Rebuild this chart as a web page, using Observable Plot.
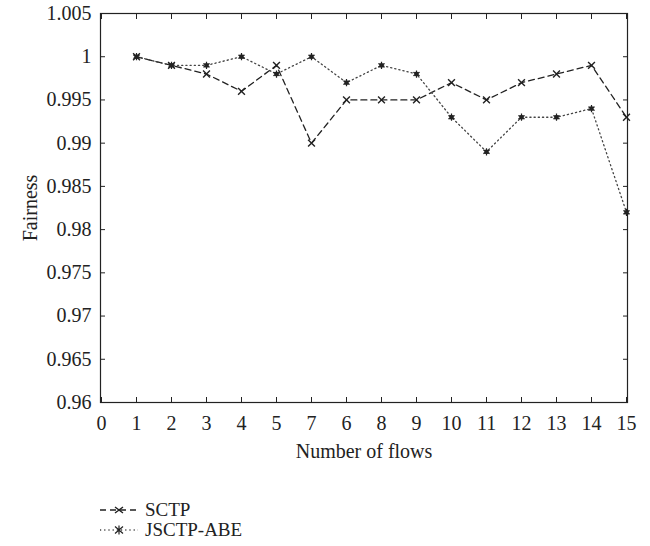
<!DOCTYPE html>
<html>
<head>
<meta charset="utf-8">
<script src="https://cdn.jsdelivr.net/npm/d3@7"></script>
<script src="https://cdn.jsdelivr.net/npm/@observablehq/plot@0.6"></script>
<style>
  body { margin: 0; background: #fff; font-family: "Liberation Serif", "DejaVu Serif", serif; }
  #chart { width: 650px; }
  #legend { margin-left: 98px; margin-top: 30px; font-size: 19px; color: #222; }
  #legend .row { display: flex; align-items: center; height: 20px; }
  #legend svg { margin-right: 5px; }
</style>
</head>
<body>
<div id="chart"></div>
<div id="legend"></div>
<script>
const xLabels = ["0","1","2","3","4","5","7","6","8","9","10","11","12","13","14","15"];
const flows = ["1","2","3","4","5","7","6","8","9","10","11","12","13","14","15"];
const sctp = [1, 0.999, 0.998, 0.996, 0.999, 0.990, 0.995, 0.995, 0.995, 0.997, 0.995, 0.997, 0.998, 0.999, 0.993];
const jsctp = [1, 0.999, 0.999, 1, 0.998, 1, 0.997, 0.999, 0.998, 0.993, 0.989, 0.993, 0.993, 0.994, 0.982];
const yTicks = [0.96, 0.965, 0.97, 0.975, 0.98, 0.985, 0.99, 0.995, 1, 1.005];
const seriesNames = ["SCTP", "JSCTP-ABE"];

const s1 = flows.map((f, i) => ({flow: f, value: sctp[i], series: seriesNames[0]}));
const s2 = flows.map((f, i) => ({flow: f, value: jsctp[i], series: seriesNames[1]}));
const fmt = d => d === 1 ? "1" : String(+d.toFixed(3));

const plot = Plot.plot({
  width: 650,
  height: 470,
  marginLeft: 100,
  marginRight: 23,
  marginTop: 13,
  marginBottom: 68,
  style: {fontFamily: "'Liberation Serif', 'DejaVu Serif', serif", fontSize: "20px", color: "#222", background: "#fff"},
  x: {type: "point", domain: xLabels, padding: 0, label: null},
  y: {domain: [0.96, 1.005], label: null},
  marks: [
    Plot.frame({stroke: "#222", strokeWidth: 1.2}),
    Plot.axisX({anchor: "bottom", tickSize: -5, tickPadding: 18, fontSize: 20, label: "Number of flows", labelArrow: "none", labelAnchor: "center", labelOffset: 55, stroke: "#222"}),
    Plot.axisX({anchor: "top", tickSize: -5, tickFormat: () => "", label: null, stroke: "#222"}),
    Plot.axisY({anchor: "left", ticks: yTicks, tickSize: -5, tickPadding: 14, tickFormat: fmt, fontSize: 20, label: "Fairness", labelArrow: "none", labelAnchor: "center", labelOffset: 78, stroke: "#222"}),
    Plot.axisY({anchor: "right", ticks: yTicks, tickSize: -5, tickFormat: () => "", label: null, stroke: "#222"}),
    Plot.line(s1, {x: "flow", y: "value", stroke: "#222", strokeWidth: 1.3, strokeDasharray: "6,4"}),
    Plot.line(s2, {x: "flow", y: "value", stroke: "#444", strokeWidth: 1.3, strokeDasharray: "1.2,3"}),
    Plot.dot(s1, {x: "flow", y: "value", symbol: "times", r: 3.2, stroke: "#222", strokeWidth: 1.4}),
    Plot.dot(s2, {x: "flow", y: "value", symbol: "square", r: 2.4, fill: "#222", stroke: "none"}),
    Plot.dot(s2, {x: "flow", y: "value", symbol: "asterisk", r: 3.4, stroke: "#222", strokeWidth: 1.2})
  ]
});
document.getElementById("chart").appendChild(plot);

document.getElementById("legend").innerHTML = `
<div class="row"><svg width="42" height="14"><line x1="2" y1="7" x2="40" y2="7" stroke="#222" stroke-width="1.3" stroke-dasharray="6,4"/><path d="M17,4L25,10M17,10L25,4" stroke="#222" stroke-width="1.4"/></svg><span>${seriesNames[0]}</span></div>
<div class="row"><svg width="42" height="14"><line x1="2" y1="7" x2="40" y2="7" stroke="#444" stroke-width="1.3" stroke-dasharray="1.2,3"/><path d="M17,3.5L25,10.5M17,10.5L25,3.5M21,2.5V11.5" stroke="#222" stroke-width="1.2"/></svg><span>${seriesNames[1]}</span></div>`;
</script>
</body>
</html>
